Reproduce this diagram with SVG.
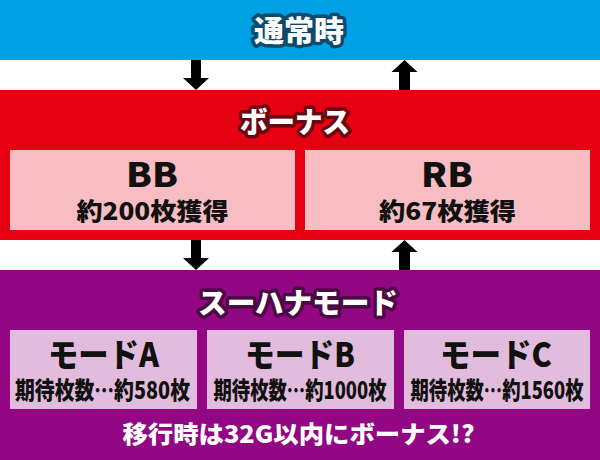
<svg xmlns="http://www.w3.org/2000/svg" width="600" height="460" viewBox="0 0 600 460">
<style>
text{font-family:"Noto Sans CJK JP","Noto Sans",sans-serif;font-weight:900;text-anchor:middle}
.title{fill:#fff;font-size:29px;stroke-width:7px;stroke-linejoin:round;paint-order:stroke}
.t-blue{stroke:#0d4a6c}
.t-red{stroke:#6b0711}
.t-purple{stroke:#4a0a42}
.big{fill:#111;font-size:33px}
.sub{fill:#111;font-size:24px}
.note{fill:#fff;font-size:24px}
.arrow{fill:#000}
</style>
<rect width="600" height="460" fill="#fff"/>
<g id="normal">
<rect x="0" y="0" width="600" height="60" fill="#00a0e4"/>
<text class="title t-blue" x="299" y="42" textLength="90" lengthAdjust="spacingAndGlyphs">通常時</text>
</g>
<g id="bonus">
<rect x="0" y="90" width="600" height="150" fill="#e50012"/>
<text class="title t-red" x="295" y="133" textLength="110" lengthAdjust="spacingAndGlyphs">ボーナス</text>
</g>
<g id="bb">
<rect x="10" y="150" width="285" height="80" fill="#f8bcc3"/>
<text class="big" x="152" y="187" textLength="52" lengthAdjust="spacingAndGlyphs">BB</text>
<text class="sub" x="152.5" y="220" textLength="152" lengthAdjust="spacingAndGlyphs">約200枚獲得</text>
</g>
<g id="rb">
<rect x="305" y="150" width="285" height="80" fill="#f8bcc3"/>
<text class="big" x="447" y="187" textLength="52" lengthAdjust="spacingAndGlyphs">RB</text>
<text class="sub" x="447.5" y="220" textLength="137" lengthAdjust="spacingAndGlyphs">約67枚獲得</text>
</g>
<g id="super-hana">
<rect x="0" y="270" width="600" height="190" fill="#920783"/>
<text class="title t-purple" x="298" y="314" textLength="200" lengthAdjust="spacingAndGlyphs">スーハナモード</text>
<text class="note" x="298.5" y="443" textLength="352" lengthAdjust="spacingAndGlyphs">移行時は32G以内にボーナス!?</text>
</g>
<g id="mode-a">
<rect x="10" y="330" width="187" height="79" fill="#e2bcdd"/>
<text class="big" x="103.5" y="367" textLength="111" lengthAdjust="spacingAndGlyphs">モードA</text>
<text class="sub" x="102.5" y="399" textLength="175" lengthAdjust="spacingAndGlyphs">期待枚数…約580枚</text>
</g>
<g id="mode-b">
<rect x="207" y="330" width="187" height="79" fill="#e2bcdd"/>
<text class="big" x="300" y="367" textLength="110" lengthAdjust="spacingAndGlyphs">モードB</text>
<text class="sub" x="300" y="399" textLength="173" lengthAdjust="spacingAndGlyphs">期待枚数…約1000枚</text>
</g>
<g id="mode-c">
<rect x="404" y="330" width="186" height="79" fill="#e2bcdd"/>
<text class="big" x="496" y="367" textLength="112" lengthAdjust="spacingAndGlyphs">モードC</text>
<text class="sub" x="497" y="399" textLength="173" lengthAdjust="spacingAndGlyphs">期待枚数…約1560枚</text>
</g>
<g id="connectors">
<polygon class="arrow" points="191,60 201,60 201,78 209,78 196,90 183,78 191,78"/>
<polygon class="arrow" points="404.5,60 417.5,72 410,72 410,90 399,90 399,72 391.5,72"/>
<polygon class="arrow" points="191,240 201,240 201,258 209,258 196,270 183,258 191,258"/>
<polygon class="arrow" points="404.5,240 417.5,252 410,252 410,270 399,270 399,252 391.5,252"/>
</g>
</svg>
